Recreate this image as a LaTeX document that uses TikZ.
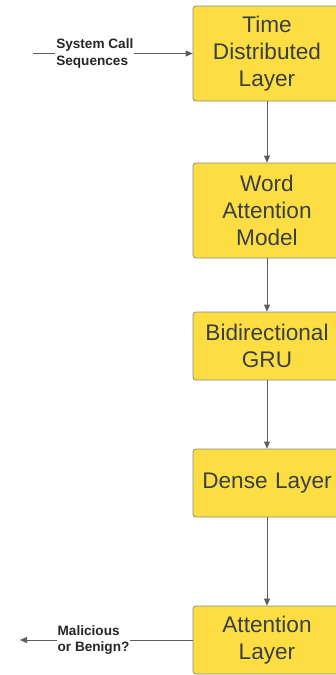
\documentclass[tikz,border=0pt]{standalone}
\usepackage{fontspec}
\setmainfont{Liberation Sans}
\usetikzlibrary{arrows.meta}
\definecolor{boxfill}{HTML}{FDDE42}
\definecolor{boxline}{HTML}{8A8A8A}
\definecolor{inktext}{HTML}{3B3F44}
\definecolor{wire}{HTML}{5A5E63}
\begin{document}
\begin{tikzpicture}[x=1pt,y=-1pt,
  layerbox/.style={draw=boxline, line width=0.8pt, fill=boxfill, rounded corners=3pt,
    minimum width=148pt, text width=146pt, align=center, inner sep=0pt,
    text=inktext, font=\fontsize{22.6}{27}\selectfont},
  tall/.style={minimum height=95pt},
  short/.style={minimum height=68pt},
  edgelabel/.style={fill=white, inner sep=1pt, align=left, text=black!85,
    font=\bfseries\fontsize{13.6}{16.5}\selectfont},
  flow/.style={draw=wire, line width=0.8pt, -{Triangle[length=7pt,width=6pt]}}]
\useasboundingbox (0,0) rectangle (336,675);
\clip (0,0) rectangle (336,675);

% layer stack
\node[layerbox, tall]  (tdl)   at (267,53.5) {Time\\Distributed\\Layer};
\node[layerbox, tall]  (wam)   at (267,210.5) {Word\\Attention\\Model};
\node[layerbox, short] (gru)   at (267,346) {Bidirectional\\GRU};
\node[layerbox, short] (dense) at (267,483) {Dense Layer};
\node[layerbox, short] (att)   at (267,640) {Attention\\Layer};

% input and output ends
\coordinate (src) at (33,53.5);
\coordinate (dst) at (20,640);

% connectors
\draw[flow] (src) -- (tdl.west)
  node[edgelabel, anchor=west, pos=0.137] {System Call\\Sequences};
\draw[flow] (tdl) -- (wam);
\draw[flow] (wam) -- (gru);
\draw[flow] (gru) -- (dense);
\draw[flow] (dense) -- (att);
\draw[flow] (att.west) -- (dst)
  node[edgelabel, anchor=west, pos=0.79] {Malicious\\or Benign?};
\end{tikzpicture}
\end{document}
